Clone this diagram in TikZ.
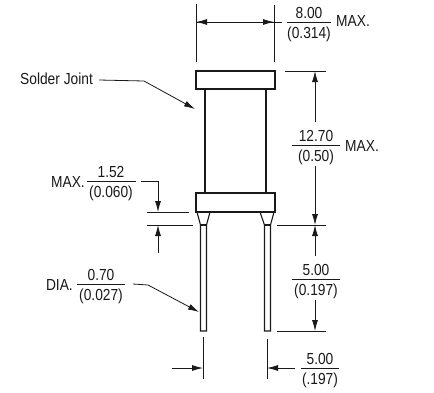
\documentclass[tikz,border=0pt]{standalone}
\usepackage{fontspec}
\setmainfont[FakeStretch=0.86]{Liberation Sans}
\usepackage{xcolor}
\usepackage{tikz}
\usetikzlibrary{arrows.meta, positioning, calc}
\definecolor{inkblack}{RGB}{25, 25, 25}
\tikzset{
    bodyline/.style={draw=inkblack, line width=1.5pt},
    leadline/.style={draw=inkblack, line width=1.1pt},
    dimline/.style={draw=inkblack, line width=0.8pt},
    dimarrow/.style={dimline, -{Latex[length=11pt, width=6pt]}},
    dimtext/.style={text=inkblack, font=\fontsize{16}{18}\selectfont, inner sep=0pt},
}
\begin{document}
\begin{tikzpicture}[x=1pt, y=-1pt]
    \useasboundingbox (0,0) rectangle (434,392);
    % capacitor body and leads
    \draw[leadline] (197,212) -- (200.5,225) -- (200.5,331) -- (206.5,331) -- (206.5,225) -- (210,212);
    \draw[leadline] (200.5,225) -- (206.5,225);
    \draw[leadline] (260,212) -- (264.5,225) -- (264.5,331) -- (270.5,331) -- (270.5,225) -- (274,212);
    \draw[leadline] (264.5,225) -- (270.5,225);
    \draw[bodyline] (205,89) -- (205,193);
    \draw[bodyline] (266,89) -- (266,193);
    \draw[bodyline] (196,71) rectangle (275,89);
    \draw[bodyline] (196,193) rectangle (275,212);
    % fractions: name/position/half width/upper/lower
    \foreach \name/\pos/\hw/\upper/\lower in {
        fracwidth/{309,22}/22/8.00/(0.314),
        fracheight/{316,145}/24/12.70/(0.50),
        fraclead/{316,279}/24/5.00/(0.197),
        fracpitch/{320,368}/19/5.00/(.197),
        fracjoint/{111,181}/24.5/1.52/(0.060),
        fracdia/{101,284}/24/0.70/(0.027)} {
        \coordinate (\name) at (\pos);
        \draw[dimline] ($(\name)+(-\hw,0)$) -- ($(\name)+(\hw,0)$);
        \node[dimtext, anchor=base] at ($(\name)+(0,-4)$) {\upper};
        \node[dimtext, anchor=base] at ($(\name)+(0,16)$) {\lower};
    }
    \node[dimtext, anchor=west] (maxwidth) at (336,21) {MAX.};
    \node[dimtext, anchor=west] (maxheight) at (345,146) {MAX.};
    \node[dimtext, anchor=east] (maxjoint) at (85,182) {MAX.};
    \node[dimtext, anchor=east] (diatext) at (73,285) {DIA.};
    \node[dimtext, anchor=west] (soldertext) at (20,79) {Solder Joint};
    % extension lines
    \draw[dimline] (196,4) -- (196,62);
    \draw[dimline] (274,5) -- (274,62);
    \draw[dimline] (285,71) -- (326,71);
    \draw[dimline] (277,225) -- (326,225);
    \draw[dimline] (277,331) -- (326,331);
    \draw[dimline] (147,212) -- (189,212);
    \draw[dimline] (147,225) -- (193,225);
    \draw[dimline] (203,337) -- (203,379);
    \draw[dimline] (267,339) -- (267,379);
    % dimension arrows
    \coordinate (widthstart) at (282,22);
    \draw[dimarrow] (widthstart) -- (196,22);
    \coordinate (widthend) at (196,22);
    \draw[dimarrow] (widthend) -- (274,22);
    \draw[dimline] (274,22) -- (widthstart);
    \draw[dimarrow] (315,122) -- (315,71);
    \draw[dimarrow] (315,166) -- (315,225);
    \draw[dimarrow] (315,256) -- (315,225);
    \draw[dimarrow] (315,300) -- (315,331);
    \draw[dimarrow] (172,368) -- (203,368);
    \draw[dimarrow] (295,368) -- (267,368);
    \draw[dimarrow] (141,181) -- (158,181) -- (158,212);
    \draw[dimarrow] (158,253) -- (158,225);
    % leaders
    \draw[dimarrow] (soldertext.east) ++(6,1) -- (144,81) -- (195,109);
    \draw[dimarrow] (133,284) -- (148,285) -- (199,312);
\end{tikzpicture}
\end{document}
